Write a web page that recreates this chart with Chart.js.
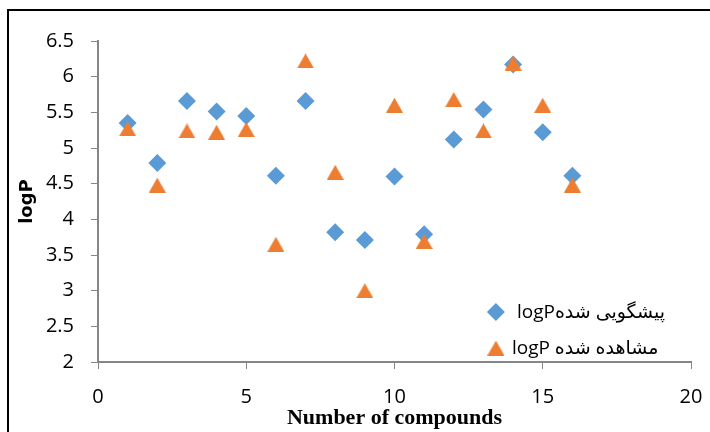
<!DOCTYPE html>
<html>
<head>
<meta charset="utf-8">
<script src="https://cdn.jsdelivr.net/npm/chart.js@4/dist/chart.umd.min.js"></script>
<style>
    html, body { margin: 0; padding: 0; background: #ffffff; }
    canvas { display: block; }
</style>
</head>
<body>
<canvas id="logpChart" width="710" height="432"></canvas>
<script>
const compounds = [1, 2, 3, 4, 5, 6, 7, 8, 9, 10, 11, 12, 13, 14, 15, 16];
const predicted = [5.35, 4.79, 5.66, 5.51, 5.45, 4.61, 5.66, 3.82, 3.71, 4.60, 3.79, 5.12, 5.54, 6.17, 5.22, 4.61];
const observed = [5.27, 4.48, 5.24, 5.22, 5.26, 3.65, 6.22, 4.66, 3.00, 5.60, 3.69, 5.68, 5.24, 6.19, 5.60, 4.48];

const xTicks = [0, 5, 10, 15, 20];
const xTickLabels = ['0', '5', '10', '15', '20'];
const yTicks = [2, 2.5, 3, 3.5, 4, 4.5, 5, 5.5, 6, 6.5];
const yTickLabels = ['2', '2.5', '3', '3.5', '4', '4.5', '5', '5.5', '6', '6.5'];

const seriesNames = ['پیشگویی شدهlogP', 'مشاهده شده logP'];
const xTitle = 'Number of compounds';
const yTitle = 'logP';

const blue = '#5b9bd5';
const orange = '#ed7d31';
const axisGray = '#868686';
const tickFont = { family: "'Open Sans', 'DejaVu Sans'", size: 20 };

// Excel-style triangle: centred on its bounding box, not its centroid
function makeTriangle(color, w, h) {
    const c = document.createElement('canvas');
    c.width = w;
    c.height = h;
    const g = c.getContext('2d');
    g.fillStyle = color;
    g.beginPath();
    g.moveTo(w / 2, 0);
    g.lineTo(w, h);
    g.lineTo(0, h);
    g.closePath();
    g.fill();
    return c;
}

const triangle = makeTriangle(orange, 17, 15);

const toPoints = (values) => values.map((y, i) => ({ x: compounds[i], y }));

const framePlugin = {
    id: 'frame',
    beforeDraw(chart) {
        const { ctx, width, height } = chart;
        ctx.save();
        ctx.fillStyle = '#ffffff';
        ctx.fillRect(0, 0, width, height);
        ctx.strokeStyle = '#000000';
        ctx.lineWidth = 2;
        ctx.beginPath();
        ctx.moveTo(8, height);
        ctx.lineTo(8, 10);
        ctx.lineTo(width, 10);
        ctx.stroke();
        ctx.restore();
    },
};

const legendPlugin = {
    id: 'insideLegend',
    afterDraw(chart) {
        const { ctx, chartArea } = chart;
        const x = chartArea.left + (chartArea.right - chartArea.left) * 0.671;
        const rows = [chartArea.top + 271, chartArea.top + 307];
        ctx.save();
        ctx.font = "19px 'Open Sans', 'DejaVu Sans'";
        ctx.textBaseline = 'middle';
        ctx.textAlign = 'left';
        ctx.direction = 'rtl';
        chart.data.datasets.forEach((ds, i) => {
            ctx.fillStyle = ds.pointBackgroundColor;
            Chart.helpers.drawPoint(ctx, {
                pointStyle: ds.pointStyle,
                radius: ds.pointRadius,
                rotation: 0,
                borderWidth: 0,
            }, x, rows[i]);
            ctx.fillStyle = '#000000';
            ctx.fillText(ds.label, x + (i === 0 ? 21 : 16), rows[i] + 1);
        });
        ctx.restore();
    },
};

new Chart(document.getElementById('logpChart'), {
    type: 'scatter',
    data: {
        datasets: [
            {
                label: seriesNames[0],
                data: toPoints(predicted),
                pointStyle: 'rectRot',
                pointRadius: 9,
                pointBackgroundColor: blue,
                pointBorderWidth: 0,
                order: 1,
            },
            {
                label: seriesNames[1],
                data: toPoints(observed),
                pointStyle: triangle,
                pointRadius: 9,
                pointBackgroundColor: orange,
                pointBorderWidth: 0,
                order: 0,
            },
        ],
    },
    options: {
        responsive: false,
        animation: false,
        events: [],
        layout: { padding: { left: 10, top: 41, right: 19, bottom: 0 } },
        plugins: {
            legend: { display: false },
            tooltip: { enabled: false },
        },
        scales: {
            x: {
                type: 'linear',
                min: 0,
                max: 20,
                afterBuildTicks: (scale) => { scale.ticks = xTicks.map((value) => ({ value })); },
                afterFit: (scale) => {
                    scale.height = 70;
                    scale.paddingLeft = 0;
                    scale.paddingRight = 0;
                },
                ticks: {
                    color: '#000000',
                    font: tickFont,
                    padding: 16,
                    maxRotation: 0,
                    callback: (value, index) => xTickLabels[index],
                },
                grid: { drawOnChartArea: false, drawTicks: true, tickLength: 7, color: axisGray, lineWidth: 1 },
                border: { color: axisGray, width: 2 },
                title: {
                    display: true,
                    text: xTitle,
                    color: '#000000',
                    font: { family: "'Liberation Serif', 'DejaVu Serif'", size: 22, weight: 'bold' },
                    padding: { top: 0, bottom: 0 },
                },
            },
            y: {
                type: 'linear',
                min: 2,
                max: 6.5,
                afterBuildTicks: (scale) => { scale.ticks = yTicks.map((value) => ({ value })); },
                afterFit: (scale) => { scale.width = 88; },
                ticks: {
                    color: '#000000',
                    font: tickFont,
                    padding: 17,
                    callback: (value, index) => yTickLabels[index],
                },
                grid: { drawOnChartArea: false, drawTicks: true, tickLength: 7, color: axisGray, lineWidth: 1 },
                border: { color: axisGray, width: 2 },
                title: {
                    display: true,
                    text: yTitle,
                    color: '#000000',
                    font: { family: "'DejaVu Sans'", size: 18, weight: 'bold' },
                    padding: { top: 7, bottom: 0 },
                },
            },
        },
    },
    plugins: [framePlugin, legendPlugin],
});
</script>
</body>
</html>
